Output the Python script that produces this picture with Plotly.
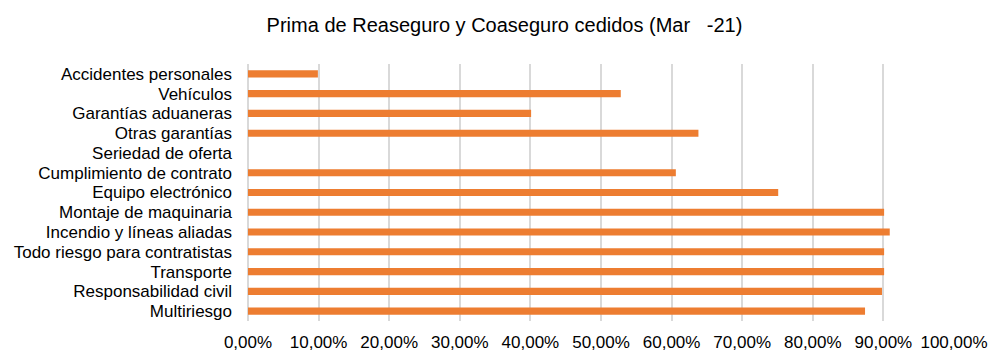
import plotly.graph_objects as go

categories = [
    "Accidentes personales",
    "Vehículos",
    "Garantías aduaneras",
    "Otras garantías",
    "Seriedad de oferta",
    "Cumplimiento de contrato",
    "Equipo electrónico",
    "Montaje de maquinaria",
    "Incendio y líneas aliadas",
    "Todo riesgo para contratistas",
    "Transporte",
    "Responsabilidad civil",
    "Multiriesgo",
]
values = [0.099, 0.528, 0.401, 0.638, 0.0, 0.606, 0.751, 0.901, 0.909, 0.901, 0.901, 0.898, 0.874]
tick_vals = [i / 10 for i in range(11)]
tick_text = [f"{v*100:.2f}%".replace(".", ",") for v in tick_vals]

fig = go.Figure(
    go.Bar(
        x=values,
        y=categories,
        orientation="h",
        marker=dict(color="#ED7D31", line=dict(width=0)),
        width=0.36,
    )
)

fig.update_layout(
    width=990,
    height=351,
    margin=dict(l=248, r=36, t=64, b=30),
    paper_bgcolor="white",
    plot_bgcolor="white",
    font=dict(family="Liberation Sans, Arial, sans-serif", size=17, color="#000000"),
    title=dict(
        text="Prima de Reaseguro y Coaseguro cedidos (Mar   -21)",
        x=504.5 / 990,
        xanchor="center",
        xref="container",
        y=1 - 25 / 351,
        yanchor="middle",
        yref="container",
        font=dict(size=20, color="#000000"),
    ),
    showlegend=False,
    bargap=0.64,
)

fig.update_xaxes(
    range=[0, 1],
    tickmode="array",
    tickvals=tick_vals,
    ticktext=tick_text,
    showgrid=True,
    gridcolor="#D9D9D9",
    gridwidth=1.5,
    zeroline=True,
    zerolinecolor="#D9D9D9",
    zerolinewidth=1.5,
    showline=False,
    ticks="",
    ticklabelstandoff=9,
    tickfont=dict(size=17),
    automargin=False,
)
fig.update_yaxes(
    autorange="reversed",
    tickmode="array",
    tickvals=categories,
    ticktext=categories,
    showgrid=False,
    showline=False,
    ticks="",
    ticklabelstandoff=15,
    tickfont=dict(size=17),
    automargin=False,
)

fig.write_html("out.html")
